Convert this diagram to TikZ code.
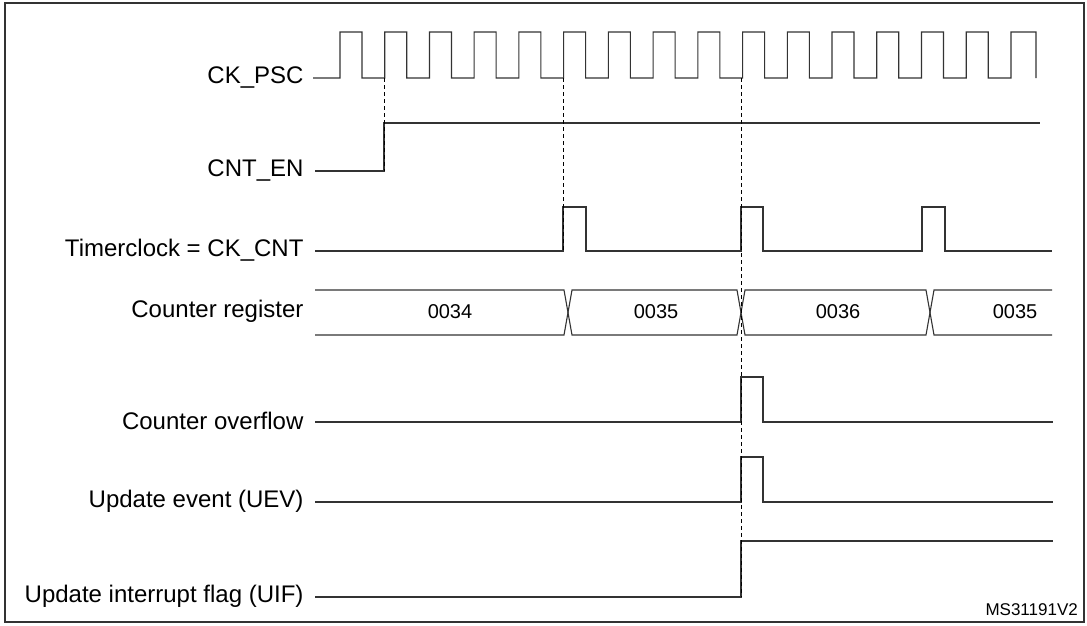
\documentclass[tikz,border=0pt]{standalone}
\usepackage{fontspec}
\setmainfont{Liberation Sans}
\begin{document}
\begin{tikzpicture}[x=1pt,y=-1pt,
  wave/.style={line width=1.1pt,black!80},
  guide/.style={line width=0.9pt,dashed,dash pattern=on 4pt off 3pt},
  lbl/.style={anchor=east,font=\fontsize{24}{28}\selectfont},
  val/.style={font=\fontsize{20}{24}\selectfont}]
\useasboundingbox (0,0) rectangle (1087,625);
\draw[line width=1.8pt,black!80] (5,3) rectangle (1084,622);
% labels
\node[lbl] (l1) at (307,77) {CK\_PSC};
\node[lbl] (l2) at (307,170) {CNT\_EN};
\node[lbl] (l3) at (307,250) {Timerclock = CK\_CNT};
\node[lbl] (l4) at (307,311) {Counter register};
\node[lbl] (l5) at (307,421) {Counter overflow};
\node[lbl] (l6) at (307,501) {Update event (UEV)};
\node[lbl] (l7) at (307,596) {Update interrupt flag (UIF)};
\node[anchor=south east,inner sep=0pt,font=\fontsize{17}{20}\selectfont] (ms) at (1078,616) {MS31191V2};
% CK_PSC
\draw[wave] (313,78) -- (340,78)
  \foreach \k in {0,...,14} { -- ({340+44.73*\k},78) -- ({340+44.73*\k},32) -- ({362+44.73*\k},32) -- ({362+44.73*\k},78) -- ({340+44.73*(\k+1)},78) }
  -- (1011,32) -- (1036,32) -- (1036,78);
% CNT_EN
\draw[wave] (315,171) -- (384,171) -- (384,123) -- (1040,123);
% Timerclock
\draw[wave] (315,251) -- (563,251) -- (563,207) -- (586,207) -- (586,251)
  -- (741,251) -- (741,207) -- (763,207) -- (763,251)
  -- (922,251) -- (922,207) -- (945,207) -- (945,251) -- (1052,251);
% Counter register
\draw[wave] (315,290) -- (564,290) -- (572,335) -- (737,335) -- (745,290) -- (926,290) -- (934,335) -- (1052,335);
\draw[wave] (315,335) -- (564,335) -- (572,290) -- (737,290) -- (745,335) -- (926,335) -- (934,290) -- (1052,290);
\node[val] (v1) at (450,312) {0034};
\node[val] (v2) at (656,312) {0035};
\node[val] (v3) at (838,312) {0036};
\node[val] (v4) at (1015,312) {0035};
% Counter overflow
\draw[wave] (315,422) -- (741,422) -- (741,377) -- (763,377) -- (763,422) -- (1053,422);
% UEV
\draw[wave] (315,502) -- (741,502) -- (741,457) -- (763,457) -- (763,502) -- (1053,502);
% UIF
\draw[wave] (315,597) -- (741,597) -- (741,541) -- (1053,541);
% guides
\draw[guide] (384,78) -- (384,171);
\draw[guide] (563,78) -- (563,251);
\draw[guide] (741,78) -- (741,597);
\end{tikzpicture}
\end{document}
